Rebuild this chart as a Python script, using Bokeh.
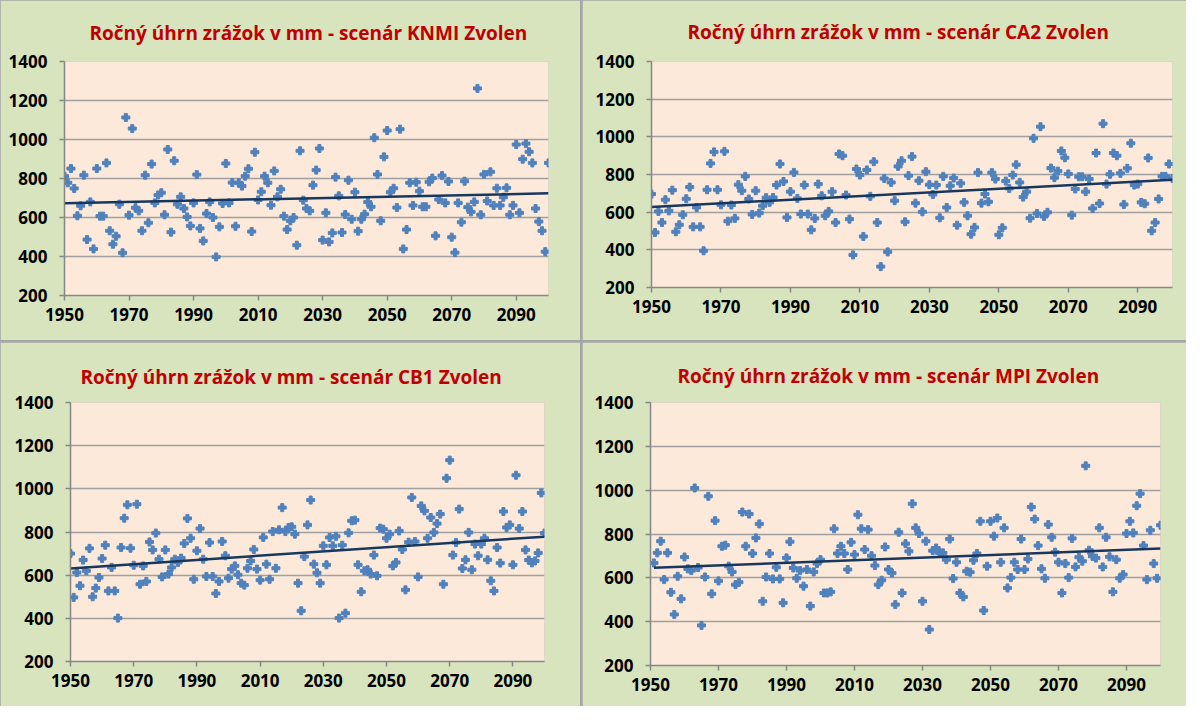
import numpy as np
from bokeh.plotting import figure
from bokeh.layouts import row, column
from bokeh.models import Range1d, FixedTicker, ColumnDataSource
from bokeh.embed import file_html
from bokeh.resources import INLINE

# ---------------- data ----------------
years_knmi = list(range(1950, 2101))
knmi = [812, 778, 851, 749, 609, 660, 817, 487, 680, 439,
        851, 607, 607, 880, 532, 463, 504, 668, 419, 1113,
        612, 1056, 650, 634, 532, 817, 573, 874, 675, 715,
        727, 614, 949, 525, 891, 668, 706, 646, 603, 557,
        675, 820, 544, 480, 620, 680, 600, 398, 552, 672,
        877, 675, 779, 555, 778, 761, 812, 850, 528, 935,
        690, 732, 812, 778, 663, 839, 706, 745, 607, 538,
        583, 600, 458, 942, 689, 646, 634, 766, 843, 954,
        484, 624, 475, 521, 807, 711, 523, 615, 791, 591,
        730, 530, 591, 617, 679, 655, 1009, 821, 583, 911,
        1046, 730, 750, 651, 1053, 439, 538, 778, 662, 781,
        735, 655, 655, 783, 802, 506, 692, 815, 675, 785,
        499, 420, 675, 576, 786, 653, 629, 680, 1262, 614,
        821, 685, 834, 662, 750, 662, 704, 752, 614, 662,
        974, 624, 899, 979, 937, 880, 646, 579, 532, 425,
        880]

years_ca2 = list(range(1950, 2101))
ca2 = [696, 492, 604, 545, 666, 607, 717, 496, 533, 586,
       671, 733, 522, 625, 522, 395, 719, 859, 920, 719,
       639, 923, 552, 638, 567, 746, 714, 790, 670, 588,
       714, 595, 634, 677, 652, 678, 744, 856, 763, 572,
       709, 811, 673, 590, 744, 590, 506, 567, 749, 687,
       581, 604, 709, 545, 909, 900, 691, 563, 373, 829,
       797, 471, 824, 684, 868, 545, 311, 779, 389, 758,
       661, 843, 873, 549, 794, 895, 648, 767, 602, 815,
       746, 694, 744, 570, 790, 625, 740, 781, 531, 753,
       652, 581, 483, 519, 810, 648, 696, 655, 810, 776,
       480, 517, 765, 726, 797, 852, 758, 680, 709, 568,
       992, 593, 1054, 577, 599, 834, 783, 818, 925, 889,
       803, 584, 723, 788, 788, 709, 776, 620, 914, 646,
       1070, 749, 801, 914, 900, 806, 641, 833, 966, 744,
       749, 652, 645, 888, 501, 545, 670, 790, 790, 856,
       779]

years_cb1 = list(range(1950, 2101))
cb1 = [700, 497, 612, 551, 670, 620, 724, 500, 540, 589,
       677, 739, 527, 636, 527, 401, 728, 864, 926, 725,
       646, 929, 558, 643, 571, 754, 717, 795, 674, 592,
       717, 605, 636, 674, 659, 679, 747, 863, 771, 581,
       713, 816, 674, 594, 751, 594, 515, 571, 756, 690,
       586, 628, 643, 602, 563, 554, 632, 666, 719, 628,
       577, 775, 651, 581, 802, 632, 810, 913, 802, 821,
       824, 790, 563, 435, 686, 833, 948, 651, 611, 563,
       736, 648, 775, 736, 780, 401, 739, 424, 796, 852,
       855, 648, 523, 620, 625, 605, 693, 597, 818, 813,
       771, 790, 643, 659, 805, 719, 532, 753, 960, 756,
       592, 921, 898, 771, 867, 798, 839, 883, 558, 1049,
       1133, 693, 751, 906, 631, 671, 798, 625, 744, 690,
       744, 771, 671, 574, 527, 728, 656, 895, 821, 833,
       648, 1063, 816, 895, 717, 670, 657, 666, 703, 981,
       795]

years_mpi = list(range(1951, 2101))
mpi = [668, 714, 767, 592, 714, 534, 433, 607, 504, 695,
       641, 633, 1010, 647, 383, 604, 972, 527, 861, 586,
       744, 749, 653, 627, 569, 580, 900, 744, 891, 711,
       782, 846, 493, 604, 711, 595, 648, 595, 486, 691,
       765, 645, 598, 633, 562, 638, 471, 627, 665, 683,
       531, 531, 536, 824, 711, 744, 711, 638, 762, 706,
       888, 824, 729, 820, 701, 656, 569, 589, 741, 638,
       622, 478, 808, 531, 756, 721, 938, 828, 802, 493,
       767, 364, 724, 736, 714, 714, 683, 777, 597, 671,
       531, 513, 630, 626, 680, 711, 858, 451, 653, 858,
       790, 873, 671, 828, 554, 601, 671, 638, 777, 638,
       686, 923, 868, 747, 641, 598, 843, 785, 717, 671,
       531, 665, 601, 780, 650, 694, 676, 1111, 726, 698,
       690, 828, 650, 785, 696, 536, 683, 598, 615, 802,
       858, 805, 929, 984, 747, 592, 817, 665, 598, 840]

titles = ["Ročný úhrn zrážok v mm - scenár KNMI Zvolen",
          "Ročný úhrn zrážok v mm - scenár CA2 Zvolen",
          "Ročný úhrn zrážok v mm - scenár CB1 Zvolen",
          "Ročný úhrn zrážok v mm - scenár MPI Zvolen"]
x_ticks = [1950, 1970, 1990, 2010, 2030, 2050, 2070, 2090]
y_ticks = [200, 400, 600, 800, 1000, 1200, 1400]

# ---------------- styling / geometry ----------------
PANEL_BG = "#d7e4bd"
PLOT_BG = "#fde9d9"
MARK = "#4f81bd"
TREND = "#17375e"
TITLE_C = "#c00000"
AXIS_C = "#868686"
GRID_C = "#a0a0a0"
FONT = "Open Sans"

# (left, frame_w, right, top, frame_h, bottom, title_offset, title_standoff)
geoms = [
    (64, 484, 32, 60, 234, 46, 25, 32),
    (69, 521, 14, 61, 226, 53, 36, 33),
    (70, 474, 36, 60, 259, 45, 10, 25),
    (68, 510, 26, 58, 263, 43, 27, 27),
]

series = [(years_knmi, knmi), (years_ca2, ca2), (years_cb1, cb1), (years_mpi, mpi)]


def make_panel(title, yrs, vals, g):
    l, fw, r, t, fh, b, toff, tst = g
    p = figure(frame_width=fw, frame_height=fh,
               min_border_left=l, min_border_right=r,
               min_border_top=t, min_border_bottom=b,
               x_range=Range1d(1950, 2100), y_range=Range1d(200, 1400),
               output_backend="svg", toolbar_location=None,
               title=title)
    p.background_fill_color = PLOT_BG
    p.border_fill_color = PANEL_BG
    p.outline_line_color = None

    p.title.text_color = TITLE_C
    p.title.text_font = FONT
    p.title.text_font_size = "19px"
    p.title.text_font_style = "bold"
    p.title.align = "left"
    p.title.offset = toff
    p.title.standoff = tst

    p.xgrid.visible = False
    p.ygrid.ticker = FixedTicker(ticks=y_ticks)
    p.ygrid.grid_line_color = GRID_C
    p.ygrid.grid_line_width = 1.5

    for ax in (p.xaxis[0], p.yaxis[0]):
        ax.axis_line_color = AXIS_C
        ax.axis_line_width = 1.5
        ax.major_tick_line_color = AXIS_C
        ax.major_tick_line_width = 1.5
        ax.major_tick_out = 5
        ax.major_tick_in = 0
        ax.minor_tick_line_color = None
        ax.major_label_text_font = FONT
        ax.major_label_text_font_size = "17px"
        ax.major_label_text_font_style = "bold"
        ax.major_label_text_color = "#000000"
    p.xaxis[0].ticker = FixedTicker(ticks=x_ticks)
    p.yaxis[0].ticker = FixedTicker(ticks=y_ticks)
    p.xaxis[0].major_label_standoff = 7
    p.yaxis[0].major_label_standoff = 12

    src = ColumnDataSource(dict(x=yrs, y=vals))
    p.scatter("x", "y", source=src, marker="plus", size=8,
              fill_color=MARK, line_color=MARK)

    k, c = np.polyfit(np.array(yrs, float), np.array(vals, float), 1)
    tx = [yrs[0], yrs[-1]]
    ty = [k * x + c for x in tx]
    p.line(tx, ty, line_color=TREND, line_width=2.5)
    return p


panels = [make_panel(titles[i], series[i][0], series[i][1], geoms[i]) for i in range(4)]

layout = column(row(panels[0], panels[1], spacing=2),
                row(panels[2], panels[3], spacing=2),
                spacing=2, styles={"background-color": "#a6a6a6"})

open("out.html", "w").write(file_html(layout, INLINE))
